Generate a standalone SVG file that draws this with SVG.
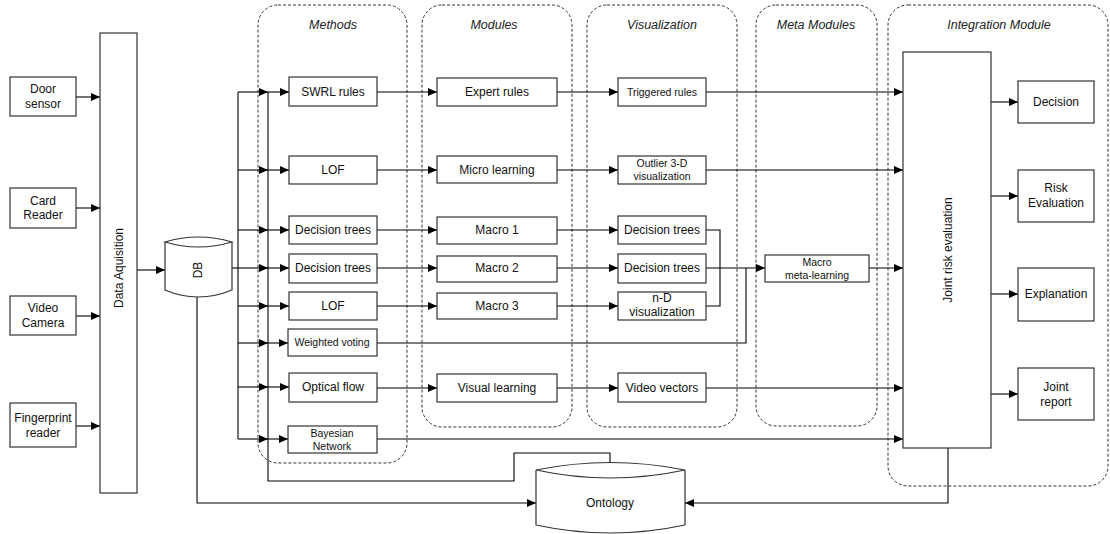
<svg xmlns="http://www.w3.org/2000/svg" width="1110" height="534" viewBox="0 0 1110 534">
<defs>
<marker id="ah" markerWidth="9" markerHeight="8" refX="9" refY="4" orient="auto" markerUnits="userSpaceOnUse">
<path d="M0,0 L9,4 L0,8 Z" fill="#000"/>
</marker>
<style>
.box{fill:#fff;stroke:#333;stroke-width:1.2}
.grp{fill:none;stroke:#333;stroke-width:1;stroke-dasharray:3,2}
.ln{fill:none;stroke:#000;stroke-width:1.1}
.ar{fill:none;stroke:#000;stroke-width:1.1;marker-end:url(#ah)}
.t{font-family:"Liberation Sans",Arial,sans-serif;font-size:12px;fill:#111;text-anchor:middle;dominant-baseline:central}
.s{font-size:10.5px}
.ti{font-family:"Liberation Sans",Arial,sans-serif;font-size:12.5px;font-style:italic;fill:#222;text-anchor:middle;dominant-baseline:central}
</style>
</defs>
<rect width="1110" height="534" fill="#fff"/>

<g id="groups">
<rect class="grp" x="258" y="5" width="149" height="458" rx="20"/>
<text class="ti" x="333" y="25">Methods</text>
<rect class="grp" x="422" y="5" width="150" height="422" rx="20"/>
<text class="ti" x="494" y="25">Modules</text>
<rect class="grp" x="587" y="5" width="150" height="422" rx="20"/>
<text class="ti" x="662" y="25">Visualization</text>
<rect class="grp" x="756" y="5" width="121" height="421" rx="20"/>
<text class="ti" x="816" y="25">Meta Modules</text>
<rect class="grp" x="888" y="5" width="220" height="481" rx="20"/>
<text class="ti" x="999" y="25">Integration Module</text>
</g>

<g id="connectors">
<line class="ar" x1="76" y1="97" x2="100" y2="97"/>
<line class="ar" x1="76" y1="208" x2="100" y2="208"/>
<line class="ar" x1="76" y1="316" x2="100" y2="316"/>
<line class="ar" x1="76" y1="426" x2="100" y2="426"/>
<line class="ar" x1="137" y1="270" x2="165" y2="270"/>
<line class="ln" x1="232" y1="268" x2="238" y2="268"/>
<line class="ln" x1="238" y1="92" x2="238" y2="439"/>
<path class="ln" d="M268,92 V481 H514 V453 H610 V463"/>
<line class="ar" x1="238" y1="92" x2="268" y2="92"/>
<line class="ar" x1="238" y1="170" x2="268" y2="170"/>
<line class="ar" x1="238" y1="230" x2="268" y2="230"/>
<line class="ar" x1="238" y1="268" x2="268" y2="268"/>
<line class="ar" x1="238" y1="306" x2="268" y2="306"/>
<line class="ar" x1="238" y1="343" x2="268" y2="343"/>
<line class="ar" x1="238" y1="387" x2="268" y2="387"/>
<line class="ar" x1="238" y1="439" x2="268" y2="439"/>
<line class="ar" x1="268" y1="92" x2="289" y2="92"/>
<line class="ar" x1="268" y1="170" x2="289" y2="170"/>
<line class="ar" x1="268" y1="230" x2="289" y2="230"/>
<line class="ar" x1="268" y1="268" x2="289" y2="268"/>
<line class="ar" x1="268" y1="306" x2="289" y2="306"/>
<line class="ar" x1="268" y1="343" x2="288" y2="343"/>
<line class="ar" x1="268" y1="387" x2="289" y2="387"/>
<line class="ar" x1="268" y1="439" x2="288" y2="439"/>
<path class="ar" d="M197,297 V503 H536"/>
<path class="ar" d="M948,448 V503 H685"/>
<line class="ar" x1="377" y1="92" x2="437" y2="92"/>
<line class="ar" x1="377" y1="170" x2="437" y2="170"/>
<line class="ar" x1="377" y1="230" x2="437" y2="230"/>
<line class="ar" x1="377" y1="268" x2="437" y2="268"/>
<line class="ar" x1="377" y1="306" x2="437" y2="306"/>
<line class="ar" x1="377" y1="388" x2="437" y2="388"/>
<line class="ar" x1="557" y1="92" x2="618" y2="92"/>
<line class="ar" x1="557" y1="170" x2="618" y2="170"/>
<line class="ar" x1="557" y1="230" x2="618" y2="230"/>
<line class="ar" x1="557" y1="268" x2="618" y2="268"/>
<line class="ar" x1="557" y1="306" x2="618" y2="306"/>
<line class="ar" x1="557" y1="388" x2="618" y2="388"/>
<line class="ar" x1="706" y1="92" x2="903" y2="92"/>
<line class="ar" x1="706" y1="170" x2="903" y2="170"/>
<line class="ar" x1="706" y1="388" x2="903" y2="388"/>
<line class="ar" x1="377" y1="439" x2="903" y2="439"/>
<path class="ln" d="M377,343 H746 V268"/>
<path class="ln" d="M706,230 H720 V306 H706"/>
<line class="ar" x1="706" y1="268" x2="765" y2="268"/>
<line class="ar" x1="869" y1="268" x2="903" y2="268"/>
<line class="ar" x1="991" y1="102" x2="1018" y2="102"/>
<line class="ar" x1="991" y1="196" x2="1018" y2="196"/>
<line class="ar" x1="991" y1="294" x2="1018" y2="294"/>
<line class="ar" x1="991" y1="394" x2="1018" y2="394"/>
</g>

<g id="door-sensor"><rect class="box" x="10" y="77" width="66" height="39"/><text class="t" x="43" y="89">Door</text><text class="t" x="43" y="104">sensor</text></g>
<g id="card-reader"><rect class="box" x="10" y="188" width="66" height="40"/><text class="t" x="43" y="201">Card</text><text class="t" x="43" y="215">Reader</text></g>
<g id="video-camera"><rect class="box" x="10" y="296" width="66" height="39"/><text class="t" x="43" y="308">Video</text><text class="t" x="43" y="323">Camera</text></g>
<g id="fingerprint-reader"><rect class="box" x="10" y="403" width="66" height="44"/><text class="t" x="43" y="418">Fingerprint</text><text class="t" x="43" y="433">reader</text></g>
<g id="data-acquisition"><rect class="box" x="100" y="33" width="37" height="460"/><text class="t" transform="translate(119,268) rotate(-90)">Data Aquisition</text></g>
<g id="db"><path class="box" d="M165,242 Q198,232 232,242 Q198,252 165,242 Z M165,242 V290 Q198,304 232,290 V242"/><text class="t" transform="translate(198,270) rotate(-90)">DB</text></g>

<g id="m-swrl"><rect class="box" x="289" y="77" width="88" height="29"/><text class="t" x="333" y="92">SWRL rules</text></g>
<g id="m-lof1"><rect class="box" x="289" y="156" width="88" height="28"/><text class="t" x="333" y="170">LOF</text></g>
<g id="m-dt1"><rect class="box" x="289" y="216" width="88" height="28"/><text class="t" x="333" y="230">Decision trees</text></g>
<g id="m-dt2"><rect class="box" x="289" y="254" width="88" height="29"/><text class="t" x="333" y="268">Decision trees</text></g>
<g id="m-lof2"><rect class="box" x="289" y="292" width="88" height="28"/><text class="t" x="333" y="306">LOF</text></g>
<g id="m-wv"><rect class="box" x="288" y="329" width="89" height="27"/><text class="t s" x="332" y="342">Weighted voting</text></g>
<g id="m-of"><rect class="box" x="289" y="373" width="88" height="29"/><text class="t" x="333" y="387">Optical flow</text></g>
<g id="m-bn"><rect class="box" x="288" y="426" width="89" height="27"/><text class="t s" x="332" y="433">Bayesian</text><text class="t s" x="332" y="446">Network</text></g>

<g id="mod-expert"><rect class="box" x="437" y="78" width="120" height="28"/><text class="t" x="497" y="92">Expert rules</text></g>
<g id="mod-micro"><rect class="box" x="437" y="156" width="120" height="27"/><text class="t" x="497" y="170">Micro learning</text></g>
<g id="mod-macro1"><rect class="box" x="437" y="217" width="120" height="27"/><text class="t" x="497" y="230">Macro 1</text></g>
<g id="mod-macro2"><rect class="box" x="437" y="256" width="120" height="26"/><text class="t" x="497" y="268">Macro 2</text></g>
<g id="mod-macro3"><rect class="box" x="437" y="293" width="120" height="26"/><text class="t" x="497" y="306">Macro 3</text></g>
<g id="mod-visual"><rect class="box" x="437" y="374" width="120" height="28"/><text class="t" x="497" y="388">Visual learning</text></g>

<g id="v-trig"><rect class="box" x="618" y="78" width="88" height="28"/><text class="t s" x="662" y="92">Triggered rules</text></g>
<g id="v-outlier"><rect class="box" x="618" y="156" width="88" height="28"/><text class="t s" x="662" y="163">Outlier 3-D</text><text class="t s" x="662" y="176">visualization</text></g>
<g id="v-dt1"><rect class="box" x="618" y="216" width="88" height="28"/><text class="t" x="662" y="230">Decision trees</text></g>
<g id="v-dt2"><rect class="box" x="618" y="254" width="88" height="29"/><text class="t" x="662" y="268">Decision trees</text></g>
<g id="v-nd"><rect class="box" x="618" y="292" width="88" height="28"/><text class="t" x="662" y="298">n-D</text><text class="t" x="662" y="312">visualization</text></g>
<g id="v-video"><rect class="box" x="618" y="373" width="88" height="29"/><text class="t" x="662" y="388">Video vectors</text></g>

<g id="meta"><rect class="box" x="765" y="255" width="104" height="27"/><text class="t s" x="817" y="262">Macro</text><text class="t s" x="817" y="275">meta-learning</text></g>

<g id="joint-risk"><rect class="box" x="903" y="52" width="88" height="396"/><text class="t" transform="translate(948,250) rotate(-90)">Joint risk evaluation</text></g>
<g id="decision"><rect class="box" x="1018" y="81" width="76" height="42"/><text class="t" x="1056" y="102">Decision</text></g>
<g id="risk-eval"><rect class="box" x="1018" y="170" width="76" height="52"/><text class="t" x="1056" y="188">Risk</text><text class="t" x="1056" y="203">Evaluation</text></g>
<g id="explanation"><rect class="box" x="1018" y="268" width="76" height="53"/><text class="t" x="1056" y="294">Explanation</text></g>
<g id="joint-report"><rect class="box" x="1018" y="368" width="76" height="52"/><text class="t" x="1056" y="387">Joint</text><text class="t" x="1056" y="402">report</text></g>

<g id="ontology"><path class="box" d="M536,470 Q610,455 685,470 Q610,486 536,470 Z M536,470 V525 Q610,541 685,525 V470"/><text class="t" x="610" y="503">Ontology</text></g>
</svg>
